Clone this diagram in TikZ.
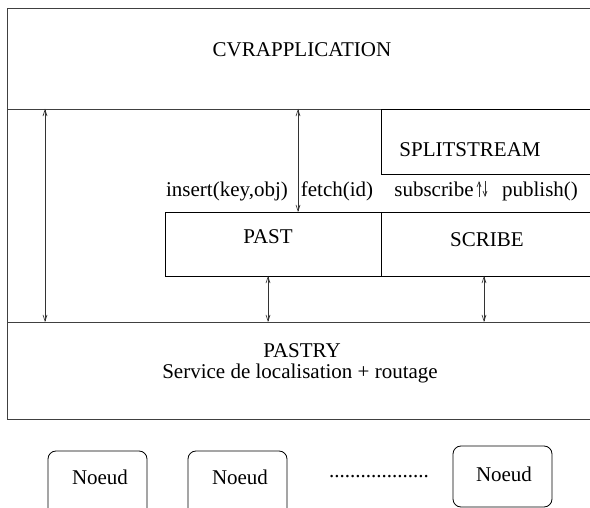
\documentclass[tikz,border=0pt]{standalone}
\usepackage{fontspec}
\setmainfont{Liberation Serif}
\usetikzlibrary{arrows.meta}
\begin{document}
\begin{tikzpicture}[x=1pt,y=-1pt,
  every node/.style={font=\fontsize{21}{25}\selectfont, inner sep=0pt, outer sep=0pt},
  frame/.style={draw=black!75, line width=0.9pt},
  boxline/.style={draw=black, line width=0.8pt},
  lbl/.style={anchor=base},
  dbl/.style={draw=black!80, line width=0.7pt, {Straight Barb[length=6pt,width=4pt]}-{Straight Barb[length=6pt,width=4pt]}},
  sgl/.style={draw=black!80, line width=0.7pt, -{Straight Barb[length=5pt,width=4pt]}},
  nbox/.style={draw=black, line width=0.8pt, rounded corners=8pt, minimum width=99pt}
]
\useasboundingbox (0,0) rectangle (590,508);
\clip (0,0) rectangle (590,508);
\fill[white] (0,0) rectangle (590,508);

% outer frame and layers
\node[frame, anchor=north west, minimum width=600pt, minimum height=101pt] (cvr) at (7,8) {};
\node[frame, anchor=north west, minimum width=600pt, minimum height=97pt] (pastry) at (7,322) {};
\draw[frame] (7,109) -- (7,322);
\node[boxline, anchor=north west, minimum width=230pt, minimum height=65pt] (split) at (381,109) {};
\node[boxline, anchor=north west, minimum width=216pt, minimum height=64pt] (past) at (165,212) {};
\node[boxline, anchor=north west, minimum width=230pt, minimum height=64pt] (scribe) at (381,212) {};

% texts
\node[lbl] (tcvr) at (302,57) {CVRAPPLICATION};
\node[lbl] (tsplit) at (470,157) {SPLITSTREAM};
\node[lbl] (tpast) at (268,244) {PAST};
\node[lbl] (tscribe) at (487,247) {SCRIBE};
\node[lbl] (tpastry) at (302,357) {PASTRY};
\node[lbl] (tserv) at (300,378) {Service de localisation + routage};
\node[lbl] (tins) at (227,197) {insert(key,obj)};
\node[lbl] (tfetch) at (337,197) {fetch(id)};
\node[lbl] (tsub) at (434,197) {subscribe};
\node[lbl] (tpub) at (540,197) {publish()};

% arrow end points
\coordinate (a1t) at (45,109);  \coordinate (a1b) at (45,322);
\coordinate (a2t) at (298,109); \coordinate (a2b) at (298,212);
\coordinate (a3t) at (268,276); \coordinate (a3b) at (268,322);
\coordinate (a4t) at (484,276); \coordinate (a4b) at (484,322);
\coordinate (upb) at (479,197); \coordinate (upt) at (479,181);
\coordinate (dnt) at (485,181); \coordinate (dnb) at (485,197);

\draw[dbl] (a1t) -- (a1b);
\draw[dbl] (a2t) -- (a2b);
\draw[dbl] (a3t) -- (a3b);
\draw[dbl] (a4t) -- (a4b);
\draw[sgl] (upb) -- (upt);
\draw[sgl] (dnt) -- (dnb);

% nodes at bottom
\node[nbox, anchor=north west, minimum height=70pt] (n1) at (48,451) {};
\node[nbox, anchor=north west, minimum height=70pt] (n2) at (188,451) {};
\node[nbox, anchor=north west, minimum height=61pt] (n3) at (453,446) {};
\node[lbl] (tn1) at (100,484) {Noeud};
\node[lbl] (tn2) at (240,484) {Noeud};
\node[lbl] (tn3) at (504,481) {Noeud};
\node[lbl] (dots) at (379,477) {...................};
\end{tikzpicture}
\end{document}
